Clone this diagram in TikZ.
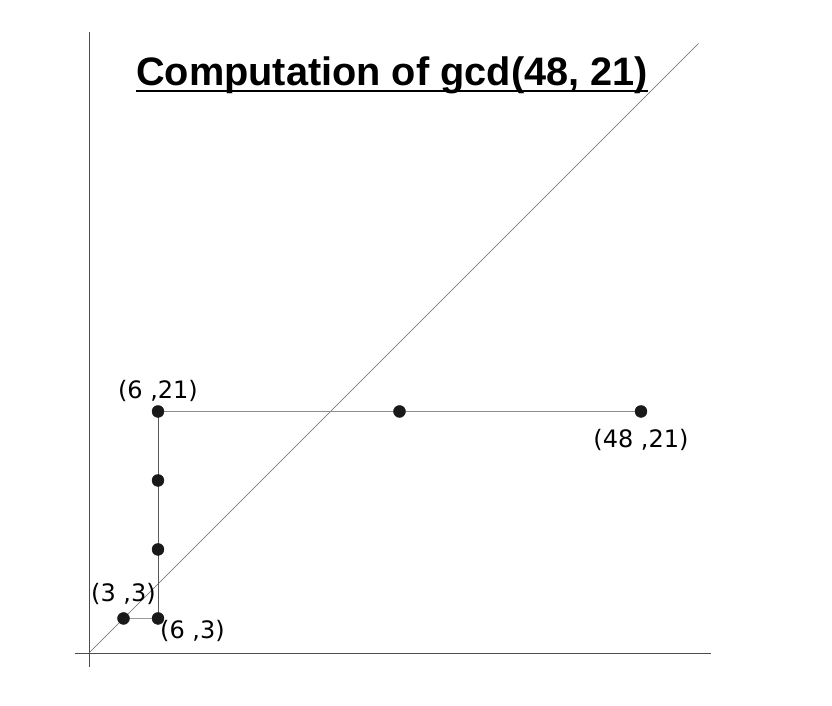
\documentclass[tikz,border=0pt]{standalone}
\usepackage{fontspec}
\setmainfont{DejaVu Sans}
\newfontfamily\titlefont{Liberation Sans}
\begin{document}
\begin{tikzpicture}[x=11.5pt, y=11.5pt,
        point label/.style={font=\fontsize{24}{26}\selectfont}]
        \useasboundingbox (-7.74, -4.61) rectangle (64.61, 56.78);
        
        \node (O) at (0, 0) {};
        \coordinate (xl) at (-1.2, 0);
        \coordinate (xr) at (54.1, 0);
        \coordinate (yb) at (0, -1.2);
        \coordinate (yt) at (0, 54);
        \coordinate (dl) at (0, 0);
        \coordinate (dr) at (53, 53);
        
        \draw[black!70, line width=0.8pt] (xl) -- (xr);
        \draw[black!70, line width=0.8pt] (yb) -- (yt);
        \draw[black!60, line width=0.6pt] (dl) -- (dr);
        
        \node (A) at (48, 21) {};
        \node (B) at (27, 21) {};
        \node (C) at (6, 21) {};
        \node (D) at (6, 15) {};
        \node (E) at (6, 9) {};
        \node (F) at (6, 3) {};
        \node (G) at (3, 3) {};
        
        \draw[black!45, line width=0.8pt] (C.center) -- (A.center);
        \draw[black!65, line width=0.8pt] (C.center) -- (F.center);
        \draw[black!40, line width=1.2pt] (G.center) -- (F.center);
        
        \filldraw [black!90] (A) circle (6pt);
        \filldraw [black!90] (B) circle (6pt);
        \filldraw [black!90] (C) circle (6pt);
        \filldraw [black!90] (D) circle (6pt);
        \filldraw [black!90] (E) circle (6pt);
        \filldraw [black!90] (F) circle (6pt);
        \filldraw [black!90] (G) circle (6pt);
        
        \node[point label] (lC) at (6, 22.8) {(6 ,21)};
        \node[point label] (lA) at (48, 18.5) {(48 ,21)};
        \node[point label] (lG) at (3, 5.13) {(3 ,3)};
        \node[point label] (lF) at (9, 1.91) {(6 ,3)};
        
        \node[font=\titlefont\bfseries\fontsize{39.7}{42}\selectfont, inner sep=0pt, anchor=base] (T) at (26.35, 49.31) {Computation of gcd(48, 21)};
        \draw[line width=2.6pt] ([yshift=-5pt]T.base west) -- ([yshift=-5pt]T.base east);
    \end{tikzpicture}
\end{document}
